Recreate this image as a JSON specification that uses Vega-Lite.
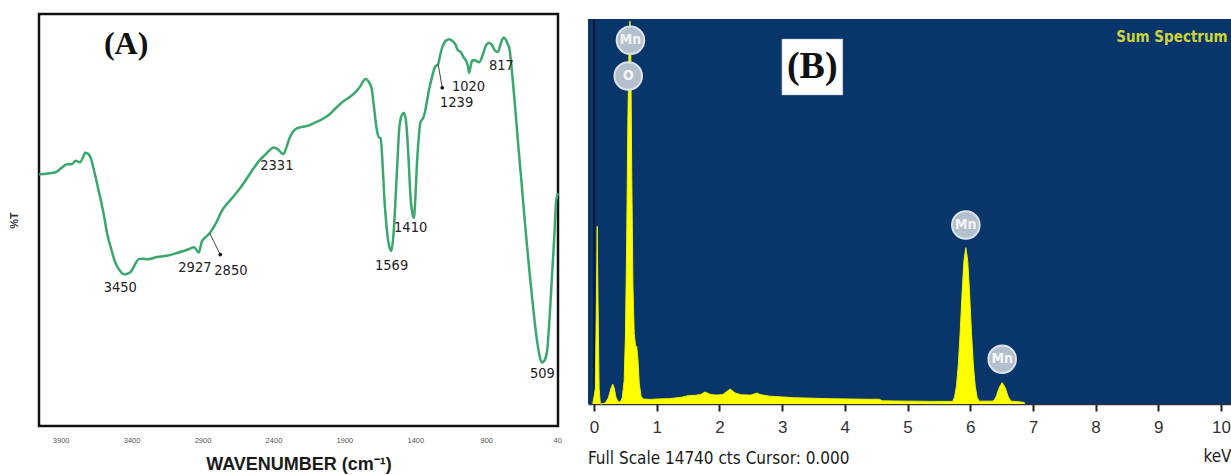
{
  "$schema": "https://vega.github.io/schema/vega-lite/v6.json",
  "background": "white",
  "padding": {"left": 6, "top": 12, "right": 0, "bottom": 0},
  "bounds": "flush",
  "spacing": 30,
  "config": {
    "font": "Liberation Sans",
    "axis": {"grid": false},
    "concat": {"spacing": 30}
  },
  "datasets": {
    "ftir": [
      {"wn": 4053, "T": 61.1}, {"wn": 3990, "T": 61.3}, {"wn": 3936, "T": 61.6}, {"wn": 3900, "T": 62.5},
      {"wn": 3858, "T": 63.5}, {"wn": 3820, "T": 63.6}, {"wn": 3793, "T": 64.4}, {"wn": 3765, "T": 64.0},
      {"wn": 3745, "T": 65.0}, {"wn": 3727, "T": 66.3}, {"wn": 3705, "T": 66.0}, {"wn": 3689, "T": 65.1},
      {"wn": 3665, "T": 62.0}, {"wn": 3637, "T": 57.8}, {"wn": 3600, "T": 52.0}, {"wn": 3571, "T": 46.5},
      {"wn": 3540, "T": 42.5}, {"wn": 3519, "T": 40.0}, {"wn": 3485, "T": 37.8}, {"wn": 3450, "T": 36.8},
      {"wn": 3420, "T": 37.1}, {"wn": 3402, "T": 37.6}, {"wn": 3375, "T": 39.3}, {"wn": 3350, "T": 40.5},
      {"wn": 3320, "T": 40.6}, {"wn": 3285, "T": 40.5}, {"wn": 3220, "T": 41.0}, {"wn": 3154, "T": 41.3},
      {"wn": 3080, "T": 42.0}, {"wn": 2998, "T": 42.9}, {"wn": 2960, "T": 43.4}, {"wn": 2927, "T": 42.1},
      {"wn": 2905, "T": 44.8}, {"wn": 2880, "T": 45.8}, {"wn": 2850, "T": 46.8}, {"wn": 2800, "T": 49.6},
      {"wn": 2764, "T": 52.2}, {"wn": 2700, "T": 55.0}, {"wn": 2633, "T": 57.8}, {"wn": 2570, "T": 61.0},
      {"wn": 2503, "T": 64.3}, {"wn": 2460, "T": 65.8}, {"wn": 2425, "T": 67.0}, {"wn": 2400, "T": 67.6},
      {"wn": 2370, "T": 67.2}, {"wn": 2331, "T": 66.0}, {"wn": 2310, "T": 67.5}, {"wn": 2290, "T": 69.6},
      {"wn": 2243, "T": 72.1}, {"wn": 2200, "T": 72.6}, {"wn": 2164, "T": 72.8}, {"wn": 2110, "T": 73.6},
      {"wn": 2060, "T": 74.4}, {"wn": 2000, "T": 75.8}, {"wn": 1956, "T": 77.3}, {"wn": 1900, "T": 79.0},
      {"wn": 1852, "T": 80.1}, {"wn": 1810, "T": 81.5}, {"wn": 1787, "T": 82.5}, {"wn": 1765, "T": 83.8},
      {"wn": 1748, "T": 84.2}, {"wn": 1730, "T": 83.6}, {"wn": 1709, "T": 82.1}, {"wn": 1690, "T": 77.0},
      {"wn": 1670, "T": 71.6}, {"wn": 1655, "T": 70.0}, {"wn": 1644, "T": 69.9}, {"wn": 1630, "T": 63.0},
      {"wn": 1617, "T": 54.6}, {"wn": 1600, "T": 47.5}, {"wn": 1585, "T": 43.8}, {"wn": 1569, "T": 42.5},
      {"wn": 1555, "T": 46.0}, {"wn": 1540, "T": 54.6}, {"wn": 1525, "T": 65.0}, {"wn": 1513, "T": 72.3},
      {"wn": 1497, "T": 75.3}, {"wn": 1482, "T": 76.0}, {"wn": 1470, "T": 75.0}, {"wn": 1461, "T": 72.3},
      {"wn": 1447, "T": 64.5}, {"wn": 1435, "T": 56.3}, {"wn": 1420, "T": 51.5}, {"wn": 1410, "T": 50.5},
      {"wn": 1400, "T": 55.0}, {"wn": 1390, "T": 62.6}, {"wn": 1378, "T": 69.0}, {"wn": 1366, "T": 73.3},
      {"wn": 1356, "T": 74.2}, {"wn": 1344, "T": 74.8}, {"wn": 1330, "T": 76.5}, {"wn": 1318, "T": 78.8},
      {"wn": 1305, "T": 81.3}, {"wn": 1280, "T": 85.0}, {"wn": 1260, "T": 87.2}, {"wn": 1239, "T": 87.8},
      {"wn": 1225, "T": 90.0}, {"wn": 1207, "T": 92.2}, {"wn": 1185, "T": 93.5}, {"wn": 1160, "T": 93.9},
      {"wn": 1140, "T": 93.5}, {"wn": 1120, "T": 92.8}, {"wn": 1100, "T": 91.2}, {"wn": 1080, "T": 90.8},
      {"wn": 1060, "T": 89.5}, {"wn": 1045, "T": 88.8}, {"wn": 1030, "T": 87.5}, {"wn": 1020, "T": 85.7},
      {"wn": 1010, "T": 87.3}, {"wn": 998, "T": 88.8}, {"wn": 975, "T": 88.7}, {"wn": 950, "T": 88.3},
      {"wn": 920, "T": 90.5}, {"wn": 900, "T": 92.5}, {"wn": 880, "T": 93.0}, {"wn": 860, "T": 92.5},
      {"wn": 840, "T": 91.2}, {"wn": 817, "T": 90.8}, {"wn": 800, "T": 92.5}, {"wn": 787, "T": 93.8},
      {"wn": 775, "T": 94.3}, {"wn": 760, "T": 93.6}, {"wn": 750, "T": 92.8}, {"wn": 738, "T": 91.9},
      {"wn": 720, "T": 86.5}, {"wn": 700, "T": 78.9}, {"wn": 675, "T": 68.5}, {"wn": 650, "T": 58.7},
      {"wn": 625, "T": 48.5}, {"wn": 598, "T": 38.4}, {"wn": 573, "T": 30.0}, {"wn": 548, "T": 22.3},
      {"wn": 528, "T": 17.8}, {"wn": 509, "T": 15.4}, {"wn": 490, "T": 15.9}, {"wn": 471, "T": 18.2},
      {"wn": 452, "T": 27.0}, {"wn": 433, "T": 38.4}, {"wn": 420, "T": 46.0}, {"wn": 407, "T": 54.6},
      {"wn": 394, "T": 56.5}
    ],
    "ftirPeaks": [
      {"label": "3450", "wn": 3480, "T": 33.5},
      {"label": "2927", "wn": 2954, "T": 38.3},
      {"label": "2850", "wn": 2700, "T": 37.6},
      {"label": "2331", "wn": 2376, "T": 63.1},
      {"label": "1569", "wn": 1567, "T": 38.8},
      {"label": "1410", "wn": 1433, "T": 48.1},
      {"label": "1239", "wn": 1109, "T": 78.4},
      {"label": "1020", "wn": 1025, "T": 82.3},
      {"label": "817", "wn": 793, "T": 87.4},
      {"label": "509", "wn": 504, "T": 12.6}
    ],
    "ftirArrows": [
      {"wn": 2850, "T": 46.8, "wn2": 2775, "T2": 41.6},
      {"wn": 1239, "T": 87.8, "wn2": 1210, "T2": 82.1}
    ],
    "panelA": [{"label": "(A)", "wn": 3439, "T": 92.7}],
    "eds": [
      {"k": -0.02, "c": 0}, {"k": 0.02, "c": 600}, {"k": 0.04, "c": 4500},
      {"k": 0.05, "c": 6800}, {"k": 0.06, "c": 4500}, {"k": 0.08, "c": 600}, {"k": 0.10, "c": 0},
      {"k": 0.18, "c": 40}, {"k": 0.23, "c": 250}, {"k": 0.27, "c": 600}, {"k": 0.297, "c": 760},
      {"k": 0.32, "c": 620}, {"k": 0.35, "c": 250}, {"k": 0.38, "c": 90}, {"k": 0.42, "c": 80},
      {"k": 0.45, "c": 250}, {"k": 0.48, "c": 900}, {"k": 0.50, "c": 2600}, {"k": 0.52, "c": 6200},
      {"k": 0.54, "c": 11000}, {"k": 0.56, "c": 14000}, {"k": 0.572, "c": 14660}, {"k": 0.585, "c": 13500},
      {"k": 0.60, "c": 9000}, {"k": 0.62, "c": 4500}, {"k": 0.64, "c": 2700}, {"k": 0.66, "c": 2250},
      {"k": 0.68, "c": 2200}, {"k": 0.70, "c": 1700}, {"k": 0.72, "c": 800}, {"k": 0.75, "c": 280},
      {"k": 0.79, "c": 190}, {"k": 0.9, "c": 175}, {"k": 1.0, "c": 190}, {"k": 1.2, "c": 205},
      {"k": 1.4, "c": 260}, {"k": 1.5, "c": 320}, {"k": 1.6, "c": 330}, {"k": 1.7, "c": 360},
      {"k": 1.77, "c": 460}, {"k": 1.85, "c": 370}, {"k": 1.95, "c": 340}, {"k": 2.05, "c": 360},
      {"k": 2.12, "c": 480}, {"k": 2.17, "c": 575}, {"k": 2.25, "c": 420}, {"k": 2.35, "c": 350},
      {"k": 2.5, "c": 340}, {"k": 2.6, "c": 420}, {"k": 2.65, "c": 360}, {"k": 2.8, "c": 300},
      {"k": 3.0, "c": 270}, {"k": 3.2, "c": 240}, {"k": 3.5, "c": 220}, {"k": 3.8, "c": 200},
      {"k": 4.1, "c": 190}, {"k": 4.4, "c": 180}, {"k": 4.55, "c": 180}, {"k": 4.6, "c": 120},
      {"k": 5.0, "c": 110}, {"k": 5.4, "c": 100}, {"k": 5.72, "c": 100}, {"k": 5.75, "c": 260},
      {"k": 5.78, "c": 680}, {"k": 5.81, "c": 1490}, {"k": 5.84, "c": 2740}, {"k": 5.87, "c": 4230},
      {"k": 5.90, "c": 5490}, {"k": 5.93, "c": 5985}, {"k": 5.96, "c": 5490}, {"k": 5.99, "c": 4230},
      {"k": 6.02, "c": 2740}, {"k": 6.05, "c": 1490}, {"k": 6.08, "c": 680}, {"k": 6.11, "c": 260},
      {"k": 6.14, "c": 110}, {"k": 6.36, "c": 110}, {"k": 6.39, "c": 176}, {"k": 6.42, "c": 314},
      {"k": 6.45, "c": 550}, {"k": 6.48, "c": 703}, {"k": 6.51, "c": 816}, {"k": 6.54, "c": 703},
      {"k": 6.57, "c": 550}, {"k": 6.60, "c": 314}, {"k": 6.63, "c": 176}, {"k": 6.66, "c": 110},
      {"k": 6.80, "c": 80}, {"k": 6.86, "c": 60}, {"k": 6.87, "c": 0}
    ],
    "edsLines": [
      {"el": "Mn", "k": 0.58, "c": 13926},
      {"el": "O", "k": 0.545, "c": 12559},
      {"el": "Mn", "k": 5.93, "c": 6854},
      {"el": "Mn", "k": 6.51, "c": 1712}
    ]
  },
  "hconcat": [
    {
      "width": 519,
      "height": 412,
      "view": {"stroke": "#111111", "strokeWidth": 2.5},
      "layer": [
        {
          "data": {"name": "ftir"},
          "mark": {"type": "line", "color": "#3aa76d", "strokeWidth": 2.5, "interpolate": "monotone"},
          "encoding": {
            "x": {
              "field": "wn", "type": "quantitative",
              "scale": {"domain": [394, 4053], "reverse": true, "nice": false, "zero": false},
              "axis": {
                "values": [3900, 3400, 2900, 2400, 1900, 1400, 900, 400],
                "format": "d",
                "labelExpr": "datum.value == 400 ? '40' : datum.label",
                "labelFontSize": 7.5, "labelColor": "#555555",
                "labelPadding": 10, "labelOverlap": false, "labelFlush": false,
                "ticks": false, "domain": false,
                "title": "WAVENUMBER (cm⁻¹)",
                "titleFont": "Liberation Sans",
                "titleFontSize": 18, "titleFontWeight": "bold", "titleColor": "#1a1a1a",
                "titlePadding": 12
              }
            },
            "y": {
              "field": "T", "type": "quantitative",
              "scale": {"domain": [0, 100], "nice": false},
              "axis": {
                "title": "%T", "labels": false, "ticks": false, "domain": false,
                "titleFont": "Liberation Sans",
                "titleFontSize": 11, "titleFontWeight": "bold", "titleColor": "#333333",
                "titlePadding": 20
              }
            }
          }
        },
        {
          "data": {"name": "ftirArrows"},
          "mark": {"type": "rule", "color": "#444444", "strokeWidth": 1},
          "encoding": {
            "x": {"field": "wn", "type": "quantitative"},
            "y": {"field": "T", "type": "quantitative"},
            "x2": {"field": "wn2"},
            "y2": {"field": "T2"}
          }
        },
        {
          "data": {"name": "ftirArrows"},
          "mark": {"type": "point", "filled": true, "color": "#111111", "size": 14, "opacity": 1},
          "encoding": {
            "x": {"field": "wn2", "type": "quantitative"},
            "y": {"field": "T2", "type": "quantitative"}
          }
        },
        {
          "data": {"name": "ftirPeaks"},
          "mark": {"type": "text", "font": "DejaVu Sans Condensed, Roboto, Liberation Sans, sans-serif", "fontSize": 14.5, "color": "#222222", "align": "center", "baseline": "middle"},
          "encoding": {
            "x": {"field": "wn", "type": "quantitative"},
            "y": {"field": "T", "type": "quantitative"},
            "text": {"field": "label"}
          }
        },
        {
          "data": {"name": "panelA"},
          "mark": {"type": "text", "font": "Liberation Serif", "fontWeight": "bold", "fontSize": 32, "color": "#111111", "align": "center", "baseline": "middle"},
          "encoding": {
            "x": {"field": "wn", "type": "quantitative"},
            "y": {"field": "T", "type": "quantitative"},
            "text": {"field": "label"}
          }
        }
      ]
    },
    {
      "width": 643,
      "height": 390,
      "view": {"stroke": null},
      "title": {
        "text": "Full Scale 14740 cts Cursor: 0.000",
        "orient": "bottom", "anchor": "start", "frame": "group",
        "font": "DejaVu Sans Condensed, Roboto, Liberation Sans, sans-serif", "fontSize": 17, "fontWeight": "normal",
        "color": "#1a1a1a", "offset": -13
      },
      "layer": [
        {
          "data": {"values": [{"k": -0.097, "k2": 10.16, "c": 0, "c2": 14740}]},
          "mark": {"type": "rect", "color": "#08356a"},
          "encoding": {
            "x": {
              "field": "k", "type": "quantitative",
              "scale": {"domain": [-0.097, 10.16], "nice": false, "zero": false},
              "axis": {
                "values": [0, 0.125, 0.25, 0.375, 0.5, 0.625, 0.75, 0.875, 1, 1.125, 1.25, 1.375, 1.5, 1.625, 1.75, 1.875, 2, 2.125, 2.25, 2.375, 2.5, 2.625, 2.75, 2.875, 3, 3.125, 3.25, 3.375, 3.5, 3.625, 3.75, 3.875, 4, 4.125, 4.25, 4.375, 4.5, 4.625, 4.75, 4.875, 5, 5.125, 5.25, 5.375, 5.5, 5.625, 5.75, 5.875, 6, 6.125, 6.25, 6.375, 6.5, 6.625, 6.75, 6.875, 7, 7.125, 7.25, 7.375, 7.5, 7.625, 7.75, 7.875, 8, 8.125, 8.25, 8.375, 8.5, 8.625, 8.75, 8.875, 9, 9.125, 9.25, 9.375, 9.5, 9.625, 9.75, 9.875, 10, 10.125],
                "format": "d",
                "labelExpr": "datum.value % 1 === 0 ? datum.label : ''",
                "labelFontSize": 17, "labelColor": "#333333",
                "labelPadding": 8, "labelOverlap": false, "labelFlush": false, "labelBound": false,
                "domain": true, "domainColor": "#333333", "domainWidth": 1.5,
                "ticks": true, "tickColor": "#222222", "tickSize": 7,
                "tickWidth": {"condition": {"test": "datum.value % 1 === 0", "value": 2}, "value": 1.2},
                "title": "keV", "titleAnchor": "end",
                "titleFont": "DejaVu Sans Condensed, Roboto, Liberation Sans, sans-serif", "titleFontSize": 17, "titleFontWeight": "normal",
                "titleColor": "#1a1a1a", "titlePadding": 13
              }
            },
            "x2": {"field": "k2"},
            "y": {"field": "c", "type": "quantitative", "scale": {"domain": [0, 14933], "nice": false}, "axis": null},
            "y2": {"field": "c2"}
          }
        },
        {
          "data": {"values": [{"k": 0, "c": 0, "c2": 14740}]},
          "mark": {"type": "rule", "color": "#0c1a30", "strokeWidth": 2},
          "encoding": {
            "x": {"field": "k", "type": "quantitative"},
            "y": {"field": "c", "type": "quantitative", "axis": null},
            "y2": {"field": "c2"}
          }
        },
        {
          "data": {"name": "eds"},
          "mark": {"type": "area", "color": "#ffff00", "opacity": 1, "line": {"color": "#f2f200", "strokeWidth": 1}},
          "encoding": {
            "x": {"field": "k", "type": "quantitative"},
            "y": {"field": "c", "type": "quantitative", "axis": null}
          }
        },
        {
          "data": {"name": "edsLines"},
          "mark": {"type": "point", "shape": "circle", "filled": true, "size": 760, "color": "#b4bfcd", "opacity": 1, "stroke": "#dde3ea", "strokeWidth": 2},
          "encoding": {
            "x": {"field": "k", "type": "quantitative"},
            "y": {"field": "c", "type": "quantitative", "axis": null}
          }
        },
        {
          "data": {"name": "edsLines"},
          "mark": {"type": "text", "font": "DejaVu Sans Condensed, Roboto, Liberation Sans, sans-serif", "fontSize": 14, "fontWeight": "bold", "color": "#f4f6fa", "align": "center", "baseline": "middle"},
          "encoding": {
            "x": {"field": "k", "type": "quantitative"},
            "y": {"field": "c", "type": "quantitative", "axis": null},
            "text": {"field": "el"}
          }
        },
        {
          "data": {"values": [{"k": 2.996, "k2": 3.968, "c": 11832, "c2": 13976}]},
          "mark": {"type": "rect", "color": "#ffffff", "stroke": "#9aa4b0", "strokeWidth": 0.5},
          "encoding": {
            "x": {"field": "k", "type": "quantitative"},
            "x2": {"field": "k2"},
            "y": {"field": "c", "type": "quantitative", "axis": null},
            "y2": {"field": "c2"}
          }
        },
        {
          "data": {"values": [{"label": "(B)", "k": 3.48, "c": 12904}]},
          "mark": {"type": "text", "font": "Liberation Serif", "fontWeight": "bold", "fontSize": 38, "color": "#111111", "align": "center", "baseline": "middle"},
          "encoding": {
            "x": {"field": "k", "type": "quantitative"},
            "y": {"field": "c", "type": "quantitative", "axis": null},
            "text": {"field": "label"}
          }
        },
        {
          "data": {"values": [{"label": "Sum Spectrum", "k": 10.107, "c": 14052}]},
          "mark": {"type": "text", "font": "DejaVu Sans Condensed, Roboto, Liberation Sans, sans-serif", "fontWeight": "bold", "fontSize": 15, "color": "#cdd43c", "align": "right", "baseline": "middle"},
          "encoding": {
            "x": {"field": "k", "type": "quantitative"},
            "y": {"field": "c", "type": "quantitative", "axis": null},
            "text": {"field": "label"}
          }
        }
      ]
    }
  ]
}
